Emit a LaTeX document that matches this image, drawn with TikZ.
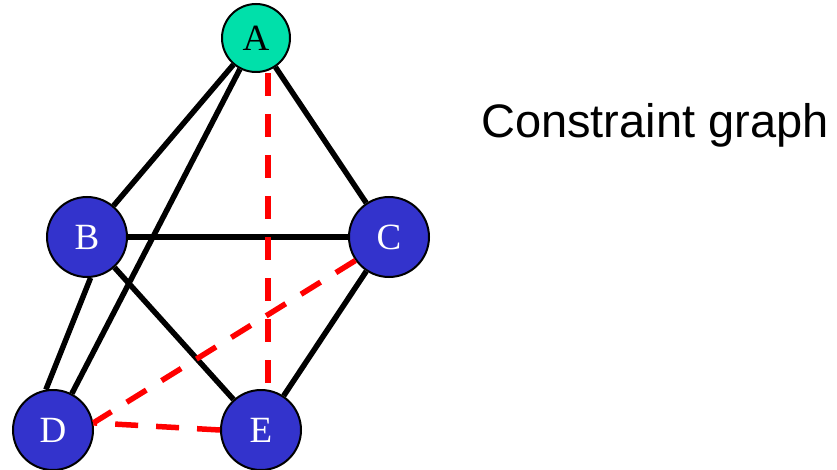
\documentclass[tikz,border=0pt]{standalone}
\usepackage{fontspec}
\setmainfont{Liberation Serif}
\newfontfamily\labelfont{Liberation Sans}
\usetikzlibrary{arrows.meta, calc}
\definecolor{nodegreen}{HTML}{00E0AA}
\definecolor{nodeblue}{HTML}{3333CC}
\definecolor{dashred}{HTML}{FF0000}

\begin{document}
\begin{tikzpicture}[x=1pt, y=-1pt,
      var/.style={circle, draw=black, line width=2pt, inner sep=0pt,
        minimum size=80pt, fill=nodeblue, text=white,
        font=\fontsize{37}{37}\selectfont},
      edge/.style={line width=5.5pt, black},
      diff/.style={line width=5.5pt, dashred, dash pattern=on 23pt off 18pt}
    ]
      \useasboundingbox (0,0) rectangle (837,470);
      % variables
      \node[var, fill=nodegreen, text=black, minimum size=68pt] (A) at (256,38) {A};
      \node[var] (B) at (87,237) {B};
      \node[var] (C) at (389,237) {C};
      \node[var] (D) at (53,430) {D};
      \node[var] (E) at (261,430) {E};
      % constraints
      \draw[edge] (A) -- (B);
      \draw[edge] (A) -- (C);
      \draw[edge] (A) -- (D);
      \draw[edge] (B) -- (C);
      \draw[edge] (B.-85) -- (D.100);
      \draw[edge] (B) -- (E);
      \draw[edge] (C) -- (E);
      \draw[diff] (A.south -| E.80) -- (E.80);
      \draw[diff] (C.215) -- (D.10);
      \draw[diff] (E.180) -- (D.10);
      \node[anchor=base west, inner sep=0pt, font=\labelfont\fontsize{47}{47}\selectfont]
        (title) at (481,138) {Constraint graph};
    \end{tikzpicture}
\end{document}
